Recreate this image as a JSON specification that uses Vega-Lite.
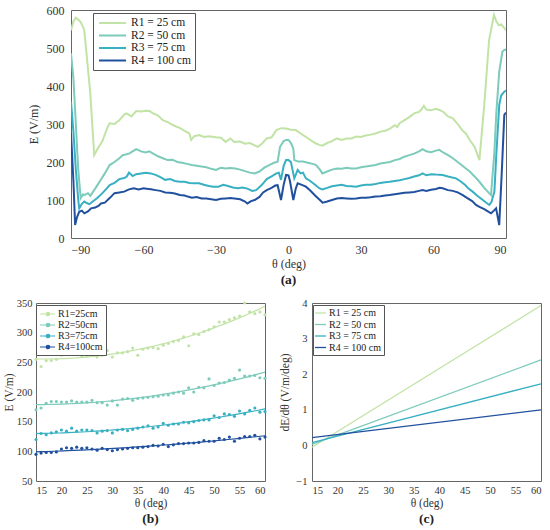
{
  "$schema": "https://vega.github.io/schema/vega-lite/v6.json",
  "padding": {"left": 2, "top": 3, "right": 5, "bottom": 2},
  "background": "white",
  "spacing": 10,
  "config": {
    "font": "Liberation Serif",
    "view": {"stroke": "#666", "strokeWidth": 1},
    "axis": {"grid": false, "ticks": false, "domain": false, "labelFont": "Liberation Serif", "titleFont": "Liberation Serif", "labelColor": "#333", "titleColor": "#333", "titleFontWeight": "normal"},
    "legend": {"labelFont": "Liberation Serif", "labelColor": "#222", "strokeColor": "#555", "fillColor": "white", "title": null},
    "title": {"font": "Liberation Serif", "fontWeight": "bold", "color": "#222", "orient": "bottom", "anchor": "middle"}
  },
  "resolve": {"scale": {"color": "independent"}, "legend": {"color": "independent"}},
  "datasets": {
    "a": [
      {"s":"R1","t":-90,"e":547},{"s":"R1","t":-89,"e":570},{"s":"R1","t":-88,"e":580},{"s":"R1","t":-87,"e":575},{"s":"R1","t":-86,"e":568},{"s":"R1","t":-85,"e":555},{"s":"R1","t":-84.5,"e":547},{"s":"R1","t":-82,"e":380},{"s":"R1","t":-80.4,"e":218},{"s":"R1","t":-79,"e":235},{"s":"R1","t":-77,"e":255},{"s":"R1","t":-75,"e":290},{"s":"R1","t":-74,"e":302},{"s":"R1","t":-72,"e":300},{"s":"R1","t":-70,"e":310},{"s":"R1","t":-68,"e":325},{"s":"R1","t":-67,"e":328},{"s":"R1","t":-65,"e":320},{"s":"R1","t":-63,"e":334},{"s":"R1","t":-61,"e":333},{"s":"R1","t":-59,"e":335},{"s":"R1","t":-57.5,"e":334},{"s":"R1","t":-56,"e":328},{"s":"R1","t":-54,"e":322},{"s":"R1","t":-52,"e":310},{"s":"R1","t":-50,"e":305},{"s":"R1","t":-48,"e":298},{"s":"R1","t":-46,"e":292},{"s":"R1","t":-45,"e":290},{"s":"R1","t":-43,"e":282},{"s":"R1","t":-41,"e":275},{"s":"R1","t":-40.3,"e":258},{"s":"R1","t":-39,"e":268},{"s":"R1","t":-37,"e":271},{"s":"R1","t":-35,"e":266},{"s":"R1","t":-33,"e":268},{"s":"R1","t":-30,"e":265},{"s":"R1","t":-28,"e":264},{"s":"R1","t":-26,"e":253},{"s":"R1","t":-24,"e":262},{"s":"R1","t":-22.5,"e":253},{"s":"R1","t":-20,"e":254},{"s":"R1","t":-18,"e":248},{"s":"R1","t":-16,"e":250},{"s":"R1","t":-14,"e":244},{"s":"R1","t":-12.7,"e":240},{"s":"R1","t":-11,"e":248},{"s":"R1","t":-9,"e":262},{"s":"R1","t":-7,"e":265},{"s":"R1","t":-5,"e":284},{"s":"R1","t":-3,"e":289},{"s":"R1","t":-1,"e":288},{"s":"R1","t":1,"e":285},{"s":"R1","t":3,"e":284},{"s":"R1","t":5,"e":275},{"s":"R1","t":7,"e":267},{"s":"R1","t":9,"e":258},{"s":"R1","t":11,"e":250},{"s":"R1","t":12.7,"e":245},{"s":"R1","t":14,"e":243},{"s":"R1","t":16,"e":250},{"s":"R1","t":18,"e":255},{"s":"R1","t":20,"e":262},{"s":"R1","t":22,"e":258},{"s":"R1","t":24,"e":262},{"s":"R1","t":26,"e":262},{"s":"R1","t":28,"e":267},{"s":"R1","t":30,"e":266},{"s":"R1","t":32,"e":270},{"s":"R1","t":34,"e":272},{"s":"R1","t":36,"e":275},{"s":"R1","t":38,"e":280},{"s":"R1","t":40,"e":282},{"s":"R1","t":42,"e":288},{"s":"R1","t":44,"e":297},{"s":"R1","t":45,"e":292},{"s":"R1","t":46,"e":302},{"s":"R1","t":48,"e":310},{"s":"R1","t":50,"e":318},{"s":"R1","t":52,"e":328},{"s":"R1","t":54,"e":332},{"s":"R1","t":55,"e":338},{"s":"R1","t":56,"e":348},{"s":"R1","t":57,"e":338},{"s":"R1","t":59,"e":336},{"s":"R1","t":61,"e":340},{"s":"R1","t":62.4,"e":337},{"s":"R1","t":64,"e":332},{"s":"R1","t":66,"e":320},{"s":"R1","t":68,"e":315},{"s":"R1","t":70,"e":300},{"s":"R1","t":72,"e":283},{"s":"R1","t":73.4,"e":275},{"s":"R1","t":75,"e":258},{"s":"R1","t":77,"e":240},{"s":"R1","t":79,"e":205},{"s":"R1","t":81,"e":350},{"s":"R1","t":83,"e":521},{"s":"R1","t":85,"e":587},{"s":"R1","t":86,"e":570},{"s":"R1","t":87,"e":560},{"s":"R1","t":88,"e":562},{"s":"R1","t":89,"e":555},{"s":"R1","t":90,"e":547},
      {"s":"R2","t":-90,"e":486},{"s":"R2","t":-89,"e":420},{"s":"R2","t":-88,"e":300},{"s":"R2","t":-87,"e":180},{"s":"R2","t":-86,"e":105},{"s":"R2","t":-85,"e":115},{"s":"R2","t":-84.5,"e":113},{"s":"R2","t":-83,"e":118},{"s":"R2","t":-82,"e":111},{"s":"R2","t":-80,"e":130},{"s":"R2","t":-78,"e":150},{"s":"R2","t":-76,"e":170},{"s":"R2","t":-74,"e":192},{"s":"R2","t":-72,"e":200},{"s":"R2","t":-70,"e":210},{"s":"R2","t":-68.6,"e":218},{"s":"R2","t":-66,"e":222},{"s":"R2","t":-64,"e":230},{"s":"R2","t":-63,"e":234},{"s":"R2","t":-61,"e":228},{"s":"R2","t":-59,"e":225},{"s":"R2","t":-57.6,"e":228},{"s":"R2","t":-56,"e":222},{"s":"R2","t":-54,"e":215},{"s":"R2","t":-52,"e":210},{"s":"R2","t":-50,"e":205},{"s":"R2","t":-48,"e":206},{"s":"R2","t":-46,"e":200},{"s":"R2","t":-44,"e":198},{"s":"R2","t":-42,"e":195},{"s":"R2","t":-40,"e":192},{"s":"R2","t":-38,"e":190},{"s":"R2","t":-36,"e":188},{"s":"R2","t":-34,"e":186},{"s":"R2","t":-32,"e":182},{"s":"R2","t":-30,"e":179},{"s":"R2","t":-28,"e":185},{"s":"R2","t":-26,"e":183},{"s":"R2","t":-24,"e":184},{"s":"R2","t":-22,"e":183},{"s":"R2","t":-20,"e":180},{"s":"R2","t":-18,"e":176},{"s":"R2","t":-16,"e":172},{"s":"R2","t":-14,"e":170},{"s":"R2","t":-12,"e":175},{"s":"R2","t":-10,"e":185},{"s":"R2","t":-8,"e":192},{"s":"R2","t":-6,"e":198},{"s":"R2","t":-4.5,"e":201},{"s":"R2","t":-3.5,"e":240},{"s":"R2","t":-2,"e":255},{"s":"R2","t":-1,"e":258},{"s":"R2","t":0,"e":258},{"s":"R2","t":1,"e":250},{"s":"R2","t":2,"e":235},{"s":"R2","t":2.4,"e":205},{"s":"R2","t":4,"e":201},{"s":"R2","t":6,"e":201},{"s":"R2","t":8,"e":198},{"s":"R2","t":10,"e":195},{"s":"R2","t":11.4,"e":192},{"s":"R2","t":13,"e":180},{"s":"R2","t":14,"e":170},{"s":"R2","t":16,"e":175},{"s":"R2","t":18,"e":180},{"s":"R2","t":20,"e":183},{"s":"R2","t":22,"e":182},{"s":"R2","t":24,"e":185},{"s":"R2","t":26,"e":183},{"s":"R2","t":28,"e":183},{"s":"R2","t":30,"e":186},{"s":"R2","t":32,"e":188},{"s":"R2","t":34,"e":190},{"s":"R2","t":36,"e":192},{"s":"R2","t":38,"e":196},{"s":"R2","t":40,"e":198},{"s":"R2","t":42,"e":200},{"s":"R2","t":44,"e":205},{"s":"R2","t":46,"e":208},{"s":"R2","t":48,"e":214},{"s":"R2","t":50,"e":218},{"s":"R2","t":52,"e":222},{"s":"R2","t":54,"e":228},{"s":"R2","t":55.5,"e":234},{"s":"R2","t":57,"e":228},{"s":"R2","t":59,"e":226},{"s":"R2","t":61,"e":230},{"s":"R2","t":62.4,"e":232},{"s":"R2","t":64,"e":225},{"s":"R2","t":66,"e":218},{"s":"R2","t":68,"e":210},{"s":"R2","t":70,"e":200},{"s":"R2","t":72,"e":190},{"s":"R2","t":73.4,"e":183},{"s":"R2","t":75,"e":175},{"s":"R2","t":77,"e":162},{"s":"R2","t":79,"e":148},{"s":"R2","t":81,"e":132},{"s":"R2","t":83,"e":118},{"s":"R2","t":83.8,"e":113},{"s":"R2","t":85.2,"e":227},{"s":"R2","t":86,"e":330},{"s":"R2","t":87.2,"e":438},{"s":"R2","t":88.5,"e":490},{"s":"R2","t":89.3,"e":495},{"s":"R2","t":90,"e":496},
      {"s":"R3","t":-90,"e":359},{"s":"R3","t":-89,"e":280},{"s":"R3","t":-88,"e":180},{"s":"R3","t":-87,"e":100},{"s":"R3","t":-86.6,"e":78},{"s":"R3","t":-85.5,"e":90},{"s":"R3","t":-84.5,"e":96},{"s":"R3","t":-83.5,"e":92},{"s":"R3","t":-82.4,"e":89},{"s":"R3","t":-81,"e":96},{"s":"R3","t":-79,"e":106},{"s":"R3","t":-77,"e":118},{"s":"R3","t":-75,"e":132},{"s":"R3","t":-74,"e":139},{"s":"R3","t":-72,"e":145},{"s":"R3","t":-70,"e":155},{"s":"R3","t":-68,"e":158},{"s":"R3","t":-67,"e":161},{"s":"R3","t":-66,"e":172},{"s":"R3","t":-64.5,"e":163},{"s":"R3","t":-63,"e":168},{"s":"R3","t":-61,"e":170},{"s":"R3","t":-59,"e":172},{"s":"R3","t":-57,"e":170},{"s":"R3","t":-55,"e":166},{"s":"R3","t":-53,"e":160},{"s":"R3","t":-51,"e":153},{"s":"R3","t":-49,"e":155},{"s":"R3","t":-47,"e":150},{"s":"R3","t":-45,"e":148},{"s":"R3","t":-43,"e":148},{"s":"R3","t":-41,"e":145},{"s":"R3","t":-39,"e":144},{"s":"R3","t":-37,"e":144},{"s":"R3","t":-35,"e":140},{"s":"R3","t":-33,"e":137},{"s":"R3","t":-31,"e":135},{"s":"R3","t":-29,"e":135},{"s":"R3","t":-27,"e":140},{"s":"R3","t":-25,"e":137},{"s":"R3","t":-23,"e":133},{"s":"R3","t":-21,"e":131},{"s":"R3","t":-19,"e":133},{"s":"R3","t":-17,"e":130},{"s":"R3","t":-15,"e":124},{"s":"R3","t":-13.4,"e":126},{"s":"R3","t":-11,"e":140},{"s":"R3","t":-9,"e":155},{"s":"R3","t":-7,"e":162},{"s":"R3","t":-5,"e":170},{"s":"R3","t":-4,"e":172},{"s":"R3","t":-3.1,"e":153},{"s":"R3","t":-2,"e":190},{"s":"R3","t":-1,"e":205},{"s":"R3","t":0,"e":205},{"s":"R3","t":1,"e":200},{"s":"R3","t":2.4,"e":157},{"s":"R3","t":3.8,"e":179},{"s":"R3","t":5,"e":170},{"s":"R3","t":6,"e":172},{"s":"R3","t":7.2,"e":157},{"s":"R3","t":9,"e":150},{"s":"R3","t":11,"e":140},{"s":"R3","t":12.7,"e":131},{"s":"R3","t":14,"e":128},{"s":"R3","t":16,"e":132},{"s":"R3","t":18,"e":136},{"s":"R3","t":20,"e":138},{"s":"R3","t":22,"e":140},{"s":"R3","t":24,"e":137},{"s":"R3","t":26,"e":136},{"s":"R3","t":28,"e":135},{"s":"R3","t":30,"e":138},{"s":"R3","t":32,"e":140},{"s":"R3","t":34,"e":140},{"s":"R3","t":36,"e":142},{"s":"R3","t":38,"e":145},{"s":"R3","t":40,"e":147},{"s":"R3","t":41.8,"e":148},{"s":"R3","t":44,"e":150},{"s":"R3","t":46,"e":152},{"s":"R3","t":48,"e":155},{"s":"R3","t":50,"e":158},{"s":"R3","t":52,"e":162},{"s":"R3","t":54,"e":165},{"s":"R3","t":55.5,"e":170},{"s":"R3","t":57,"e":165},{"s":"R3","t":59,"e":168},{"s":"R3","t":61,"e":167},{"s":"R3","t":63.8,"e":166},{"s":"R3","t":66,"e":162},{"s":"R3","t":69.3,"e":157},{"s":"R3","t":71,"e":150},{"s":"R3","t":73,"e":140},{"s":"R3","t":74.5,"e":130},{"s":"R3","t":76.2,"e":122},{"s":"R3","t":78,"e":112},{"s":"R3","t":80,"e":102},{"s":"R3","t":82,"e":92},{"s":"R3","t":83.1,"e":87},{"s":"R3","t":84,"e":95},{"s":"R3","t":85.2,"e":122},{"s":"R3","t":86,"e":220},{"s":"R3","t":87.2,"e":350},{"s":"R3","t":88,"e":375},{"s":"R3","t":89.3,"e":385},{"s":"R3","t":90,"e":388},
      {"s":"R4","t":-90,"e":276},{"s":"R4","t":-89,"e":150},{"s":"R4","t":-88.3,"e":34},{"s":"R4","t":-87.5,"e":55},{"s":"R4","t":-86.6,"e":69},{"s":"R4","t":-85.5,"e":72},{"s":"R4","t":-84.5,"e":65},{"s":"R4","t":-83,"e":70},{"s":"R4","t":-81.7,"e":78},{"s":"R4","t":-80,"e":80},{"s":"R4","t":-78.5,"e":85},{"s":"R4","t":-77.6,"e":91},{"s":"R4","t":-76,"e":93},{"s":"R4","t":-74,"e":105},{"s":"R4","t":-72,"e":118},{"s":"R4","t":-70,"e":120},{"s":"R4","t":-68,"e":122},{"s":"R4","t":-66,"e":128},{"s":"R4","t":-64,"e":131},{"s":"R4","t":-62,"e":128},{"s":"R4","t":-60,"e":131},{"s":"R4","t":-58,"e":129},{"s":"R4","t":-56.9,"e":128},{"s":"R4","t":-55,"e":126},{"s":"R4","t":-53,"e":124},{"s":"R4","t":-51,"e":120},{"s":"R4","t":-49,"e":119},{"s":"R4","t":-47,"e":117},{"s":"R4","t":-45,"e":113},{"s":"R4","t":-43,"e":112},{"s":"R4","t":-41.7,"e":109},{"s":"R4","t":-40,"e":106},{"s":"R4","t":-38,"e":108},{"s":"R4","t":-36,"e":104},{"s":"R4","t":-34,"e":104},{"s":"R4","t":-32,"e":102},{"s":"R4","t":-30,"e":100},{"s":"R4","t":-28,"e":103},{"s":"R4","t":-26,"e":104},{"s":"R4","t":-24,"e":105},{"s":"R4","t":-22.4,"e":104},{"s":"R4","t":-20,"e":102},{"s":"R4","t":-18,"e":96},{"s":"R4","t":-17,"e":91},{"s":"R4","t":-15.5,"e":97},{"s":"R4","t":-14,"e":100},{"s":"R4","t":-12,"e":108},{"s":"R4","t":-10.5,"e":120},{"s":"R4","t":-9,"e":126},{"s":"R4","t":-7,"e":132},{"s":"R4","t":-5.5,"e":138},{"s":"R4","t":-4.5,"e":139},{"s":"R4","t":-3.1,"e":100},{"s":"R4","t":-2,"e":140},{"s":"R4","t":-1,"e":166},{"s":"R4","t":0,"e":165},{"s":"R4","t":0.6,"e":150},{"s":"R4","t":2,"e":100},{"s":"R4","t":3,"e":130},{"s":"R4","t":3.8,"e":144},{"s":"R4","t":5.5,"e":140},{"s":"R4","t":7.2,"e":135},{"s":"R4","t":9,"e":125},{"s":"R4","t":11,"e":112},{"s":"R4","t":13,"e":100},{"s":"R4","t":14.1,"e":93},{"s":"R4","t":16,"e":96},{"s":"R4","t":18,"e":100},{"s":"R4","t":20,"e":104},{"s":"R4","t":22,"e":105},{"s":"R4","t":24,"e":104},{"s":"R4","t":26,"e":103},{"s":"R4","t":28,"e":104},{"s":"R4","t":30,"e":106},{"s":"R4","t":32,"e":106},{"s":"R4","t":34,"e":107},{"s":"R4","t":36,"e":109},{"s":"R4","t":38,"e":110},{"s":"R4","t":40,"e":112},{"s":"R4","t":41.8,"e":113},{"s":"R4","t":44,"e":115},{"s":"R4","t":46,"e":117},{"s":"R4","t":48,"e":119},{"s":"R4","t":50,"e":120},{"s":"R4","t":52,"e":121},{"s":"R4","t":54,"e":124},{"s":"R4","t":55.5,"e":126},{"s":"R4","t":57,"e":124},{"s":"R4","t":59,"e":127},{"s":"R4","t":61,"e":129},{"s":"R4","t":62.5,"e":132},{"s":"R4","t":63.8,"e":131},{"s":"R4","t":66,"e":126},{"s":"R4","t":68,"e":124},{"s":"R4","t":70,"e":120},{"s":"R4","t":72.1,"e":113},{"s":"R4","t":74,"e":105},{"s":"R4","t":76,"e":97},{"s":"R4","t":77.6,"e":87},{"s":"R4","t":79,"e":82},{"s":"R4","t":81,"e":76},{"s":"R4","t":82.5,"e":70},{"s":"R4","t":83.8,"e":65},{"s":"R4","t":85,"e":72},{"s":"R4","t":85.9,"e":78},{"s":"R4","t":87.2,"e":34},{"s":"R4","t":88.3,"e":180},{"s":"R4","t":89.3,"e":324},{"s":"R4","t":90,"e":330}
    ],
    "b": [
      {"s":"R1","t":15,"e":255},{"s":"R1","t":16,"e":243},{"s":"R1","t":17,"e":253},{"s":"R1","t":18,"e":253},{"s":"R1","t":19,"e":255},{"s":"R1","t":20,"e":262},{"s":"R1","t":21,"e":264},{"s":"R1","t":22,"e":264},{"s":"R1","t":23,"e":263},{"s":"R1","t":24,"e":261},{"s":"R1","t":25,"e":261},{"s":"R1","t":26,"e":262},{"s":"R1","t":27,"e":259},{"s":"R1","t":28,"e":262},{"s":"R1","t":29,"e":270},{"s":"R1","t":30,"e":259},{"s":"R1","t":31,"e":266},{"s":"R1","t":32,"e":266},{"s":"R1","t":33,"e":268},{"s":"R1","t":34,"e":274},{"s":"R1","t":35,"e":262},{"s":"R1","t":36,"e":272},{"s":"R1","t":37,"e":274},{"s":"R1","t":38,"e":275},{"s":"R1","t":39,"e":273},{"s":"R1","t":40,"e":279},{"s":"R1","t":41,"e":282},{"s":"R1","t":42,"e":285},{"s":"R1","t":43,"e":287},{"s":"R1","t":44,"e":293},{"s":"R1","t":45,"e":278},{"s":"R1","t":46,"e":298},{"s":"R1","t":47,"e":297},{"s":"R1","t":48,"e":302},{"s":"R1","t":49,"e":305},{"s":"R1","t":50,"e":310},{"s":"R1","t":51,"e":318},{"s":"R1","t":52,"e":318},{"s":"R1","t":53,"e":322},{"s":"R1","t":54,"e":325},{"s":"R1","t":55,"e":328},{"s":"R1","t":56,"e":350},{"s":"R1","t":57,"e":335},{"s":"R1","t":58,"e":332},{"s":"R1","t":59,"e":335},{"s":"R1","t":60,"e":330},
      {"s":"R2","t":15,"e":170},{"s":"R2","t":16,"e":173},{"s":"R2","t":17,"e":181},{"s":"R2","t":18,"e":184},{"s":"R2","t":19,"e":184},{"s":"R2","t":20,"e":183},{"s":"R2","t":21,"e":183},{"s":"R2","t":22,"e":185},{"s":"R2","t":23,"e":183},{"s":"R2","t":24,"e":183},{"s":"R2","t":25,"e":183},{"s":"R2","t":26,"e":186},{"s":"R2","t":27,"e":182},{"s":"R2","t":28,"e":182},{"s":"R2","t":29,"e":178},{"s":"R2","t":30,"e":185},{"s":"R2","t":31,"e":178},{"s":"R2","t":32,"e":188},{"s":"R2","t":33,"e":189},{"s":"R2","t":34,"e":186},{"s":"R2","t":35,"e":189},{"s":"R2","t":36,"e":190},{"s":"R2","t":37,"e":191},{"s":"R2","t":38,"e":192},{"s":"R2","t":39,"e":193},{"s":"R2","t":40,"e":195},{"s":"R2","t":41,"e":195},{"s":"R2","t":42,"e":198},{"s":"R2","t":43,"e":200},{"s":"R2","t":44,"e":198},{"s":"R2","t":45,"e":207},{"s":"R2","t":46,"e":200},{"s":"R2","t":47,"e":208},{"s":"R2","t":48,"e":207},{"s":"R2","t":49,"e":222},{"s":"R2","t":50,"e":211},{"s":"R2","t":51,"e":215},{"s":"R2","t":52,"e":216},{"s":"R2","t":53,"e":220},{"s":"R2","t":54,"e":223},{"s":"R2","t":55,"e":237},{"s":"R2","t":56,"e":227},{"s":"R2","t":57,"e":227},{"s":"R2","t":58,"e":228},{"s":"R2","t":59,"e":224},{"s":"R2","t":60,"e":223},
      {"s":"R3","t":15,"e":120},{"s":"R3","t":16,"e":130},{"s":"R3","t":17,"e":128},{"s":"R3","t":18,"e":131},{"s":"R3","t":19,"e":133},{"s":"R3","t":20,"e":136},{"s":"R3","t":21,"e":134},{"s":"R3","t":22,"e":139},{"s":"R3","t":23,"e":134},{"s":"R3","t":24,"e":136},{"s":"R3","t":25,"e":136},{"s":"R3","t":26,"e":135},{"s":"R3","t":27,"e":131},{"s":"R3","t":28,"e":134},{"s":"R3","t":29,"e":135},{"s":"R3","t":30,"e":131},{"s":"R3","t":31,"e":136},{"s":"R3","t":32,"e":137},{"s":"R3","t":33,"e":135},{"s":"R3","t":34,"e":137},{"s":"R3","t":35,"e":139},{"s":"R3","t":36,"e":141},{"s":"R3","t":37,"e":143},{"s":"R3","t":38,"e":139},{"s":"R3","t":39,"e":141},{"s":"R3","t":40,"e":147},{"s":"R3","t":41,"e":144},{"s":"R3","t":42,"e":146},{"s":"R3","t":43,"e":146},{"s":"R3","t":44,"e":149},{"s":"R3","t":45,"e":148},{"s":"R3","t":46,"e":150},{"s":"R3","t":47,"e":152},{"s":"R3","t":48,"e":153},{"s":"R3","t":49,"e":153},{"s":"R3","t":50,"e":160},{"s":"R3","t":51,"e":157},{"s":"R3","t":52,"e":163},{"s":"R3","t":53,"e":162},{"s":"R3","t":54,"e":159},{"s":"R3","t":55,"e":168},{"s":"R3","t":56,"e":163},{"s":"R3","t":57,"e":169},{"s":"R3","t":58,"e":173},{"s":"R3","t":59,"e":166},{"s":"R3","t":60,"e":167},
      {"s":"R4","t":15,"e":95},{"s":"R4","t":16,"e":97},{"s":"R4","t":17,"e":98},{"s":"R4","t":18,"e":98},{"s":"R4","t":19,"e":99},{"s":"R4","t":20,"e":104},{"s":"R4","t":21,"e":106},{"s":"R4","t":22,"e":105},{"s":"R4","t":23,"e":107},{"s":"R4","t":24,"e":105},{"s":"R4","t":25,"e":106},{"s":"R4","t":26,"e":104},{"s":"R4","t":27,"e":102},{"s":"R4","t":28,"e":105},{"s":"R4","t":29,"e":103},{"s":"R4","t":30,"e":101},{"s":"R4","t":31,"e":103},{"s":"R4","t":32,"e":104},{"s":"R4","t":33,"e":105},{"s":"R4","t":34,"e":106},{"s":"R4","t":35,"e":106},{"s":"R4","t":36,"e":107},{"s":"R4","t":37,"e":108},{"s":"R4","t":38,"e":110},{"s":"R4","t":39,"e":109},{"s":"R4","t":40,"e":112},{"s":"R4","t":41,"e":108},{"s":"R4","t":42,"e":111},{"s":"R4","t":43,"e":113},{"s":"R4","t":44,"e":113},{"s":"R4","t":45,"e":114},{"s":"R4","t":46,"e":114},{"s":"R4","t":47,"e":115},{"s":"R4","t":48,"e":118},{"s":"R4","t":49,"e":117},{"s":"R4","t":50,"e":117},{"s":"R4","t":51,"e":122},{"s":"R4","t":52,"e":120},{"s":"R4","t":53,"e":124},{"s":"R4","t":54,"e":117},{"s":"R4","t":55,"e":122},{"s":"R4","t":56,"e":125},{"s":"R4","t":57,"e":125},{"s":"R4","t":58,"e":127},{"s":"R4","t":59,"e":121},{"s":"R4","t":60,"e":124}
    ],
    "c": [
      {"s":"R1","t":15,"d":-0.05},{"s":"R1","t":60,"d":3.93},
      {"s":"R2","t":15,"d":0.03},{"s":"R2","t":60,"d":2.4},
      {"s":"R3","t":15,"d":0.08},{"s":"R3","t":60,"d":1.73},
      {"s":"R4","t":15,"d":0.22},{"s":"R4","t":60,"d":1.0}
    ],
    "empty": []
  },
  "vconcat": [
    {
      "bounds": "flush",
      "spacing": 0,
      "resolve": {"scale": {"color": "independent"}, "legend": {"color": "independent"}},
      "hconcat": [
        {
          "width": 35,
          "height": 228,
          "data": {"name": "empty"},
          "view": {"stroke": null},
          "mark": "point",
          "encoding": {}
        },
        {
          "width": 435,
          "height": 228,
          "data": {"name": "a"},
          "title": {"text": "(a)", "fontSize": 13.5, "offset": 4, "font": "Liberation Serif"},
          "mark": {"type": "line", "strokeWidth": 2, "clip": true},
          "encoding": {
            "x": {"field": "t", "type": "quantitative", "scale": {"domain": [-90, 90], "nice": false}, "axis": {"values": [-90, -60, -30, 0, 30, 60, 90], "title": "θ (deg)", "labelFont": "Liberation Serif", "titleFont": "Liberation Serif", "labelFontSize": 12, "titleFontSize": 12, "labelPadding": 6, "titlePadding": 3}},
            "y": {"field": "e", "type": "quantitative", "scale": {"domain": [0, 600], "nice": false}, "axis": {"values": [0, 100, 200, 300, 400, 500, 600], "title": "E (V/m)", "labelFont": "Liberation Serif", "titleFont": "Liberation Serif", "labelFontSize": 12, "titleFontSize": 12, "labelPadding": 7, "titlePadding": 6}},
            "color": {"field": "s", "type": "nominal", "scale": {"domain": ["R1", "R2", "R3", "R4"], "range": ["#c2e3a6", "#7ccbbb", "#38b0c2", "#21509e"]},
              "legend": {"orient": "none", "legendX": 22, "legendY": 3, "padding": 4, "rowPadding": 0.5, "labelFont": "Liberation Serif", "labelFontSize": 11.5, "symbolType": "M-0.8,0H4.6", "symbolSize": 100, "symbolStrokeWidth": 2, "labelOffset": 22,
                "labelExpr": "datum.label == 'R1' ? 'R1 = 25 cm' : datum.label == 'R2' ? 'R2 = 50 cm' : datum.label == 'R3' ? 'R3 = 75 cm' : 'R4 = 100 cm'"}},
            "order": {"field": "t", "type": "quantitative"}
          }
        }
      ]
    },
    {
      "bounds": "flush",
      "spacing": 47,
      "resolve": {"scale": {"color": "independent"}, "legend": {"color": "independent"}},
      "hconcat": [
        {
          "width": 229,
          "height": 178,
          "data": {"name": "b"},
          "title": {"text": "(b)", "fontSize": 13.5, "offset": 3, "font": "Liberation Serif"},
          "encoding": {
            "x": {"field": "t", "type": "quantitative", "scale": {"domain": [15, 60], "nice": false}, "axis": {"values": [15, 20, 25, 30, 35, 40, 45, 50, 55, 60], "title": "θ (deg)", "labelFont": "Liberation Serif", "titleFont": "Liberation Serif", "labelFontSize": 10.5, "titleFontSize": 11.5, "labelPadding": 4, "titlePadding": 2}},
            "y": {"field": "e", "type": "quantitative", "scale": {"domain": [50, 350], "nice": false}, "axis": {"values": [50, 100, 150, 200, 250, 300, 350], "title": "E (V/m)", "labelFont": "Liberation Serif", "titleFont": "Liberation Serif", "labelFontSize": 10.5, "titleFontSize": 11.5, "labelPadding": 4, "titlePadding": 2}},
            "color": {"field": "s", "type": "nominal", "scale": {"domain": ["R1", "R2", "R3", "R4"], "range": ["#c2e3a6", "#7ccbbb", "#38b0c2", "#21509e"]}}
          },
          "layer": [
            {
              "mark": {"type": "point", "filled": true, "size": 10, "opacity": 1},
              "encoding": {
                "color": {"field": "s", "type": "nominal", "scale": {"domain": ["R1", "R2", "R3", "R4"], "range": ["#c2e3a6", "#7ccbbb", "#38b0c2", "#21509e"]},
                  "legend": {"orient": "none", "legendX": 0, "legendY": 2, "padding": 3, "rowPadding": 0, "labelFont": "Liberation Serif", "labelFontSize": 10, "symbolType": "M-1,0H2M0.25,0a0.35,0.35 0 1,0 0.7,0a0.35,0.35 0 1,0 -0.7,0", "symbolSize": 100, "symbolStrokeWidth": 1.2, "labelOffset": 7,
                    "labelExpr": "datum.label == 'R1' ? 'R1=25cm' : datum.label == 'R2' ? 'R2=50cm' : datum.label == 'R3' ? 'R3=75cm' : 'R4=100cm'"}}
              }
            },
            {
              "transform": [{"regression": "e", "on": "t", "groupby": ["s"], "method": "poly", "order": 2}],
              "mark": {"type": "line", "strokeWidth": 1.2},
              "encoding": {}
            }
          ]
        },
        {
          "width": 229,
          "height": 178,
          "data": {"name": "c"},
          "title": {"text": "(c)", "fontSize": 13.5, "offset": 3, "font": "Liberation Serif"},
          "mark": {"type": "line", "strokeWidth": 1.3},
          "encoding": {
            "x": {"field": "t", "type": "quantitative", "scale": {"domain": [15, 60], "nice": false}, "axis": {"values": [15, 20, 25, 30, 35, 40, 45, 50, 55, 60], "title": "θ (deg)", "labelFont": "Liberation Serif", "titleFont": "Liberation Serif", "labelFontSize": 10.5, "titleFontSize": 11.5, "labelPadding": 4, "titlePadding": 2}},
            "y": {"field": "d", "type": "quantitative", "scale": {"domain": [-1, 4], "nice": false}, "axis": {"values": [-1, 0, 1, 2, 3, 4], "title": "dE/dθ  (V/m/deg)", "labelFont": "Liberation Serif", "titleFont": "Liberation Serif", "labelFontSize": 10.5, "titleFontSize": 11.5, "labelPadding": 5, "titlePadding": 5}},
            "color": {"field": "s", "type": "nominal", "scale": {"domain": ["R1", "R2", "R3", "R4"], "range": ["#c2e3a6", "#7ccbbb", "#38b0c2", "#21509e"]},
              "legend": {"orient": "none", "legendX": 1, "legendY": 2, "padding": 2, "rowPadding": 0.5, "labelFont": "Liberation Serif", "labelFontSize": 10, "symbolType": "M-1.2,0H1", "symbolSize": 100, "symbolStrokeWidth": 1.3, "labelOffset": 2,
                "labelExpr": "datum.label == 'R1' ? 'R1 = 25 cm' : datum.label == 'R2' ? 'R2 = 50 cm' : datum.label == 'R3' ? 'R3 = 75 cm' : 'R4 = 100 cm'"}}
          }
        }
      ]
    }
  ]
}
